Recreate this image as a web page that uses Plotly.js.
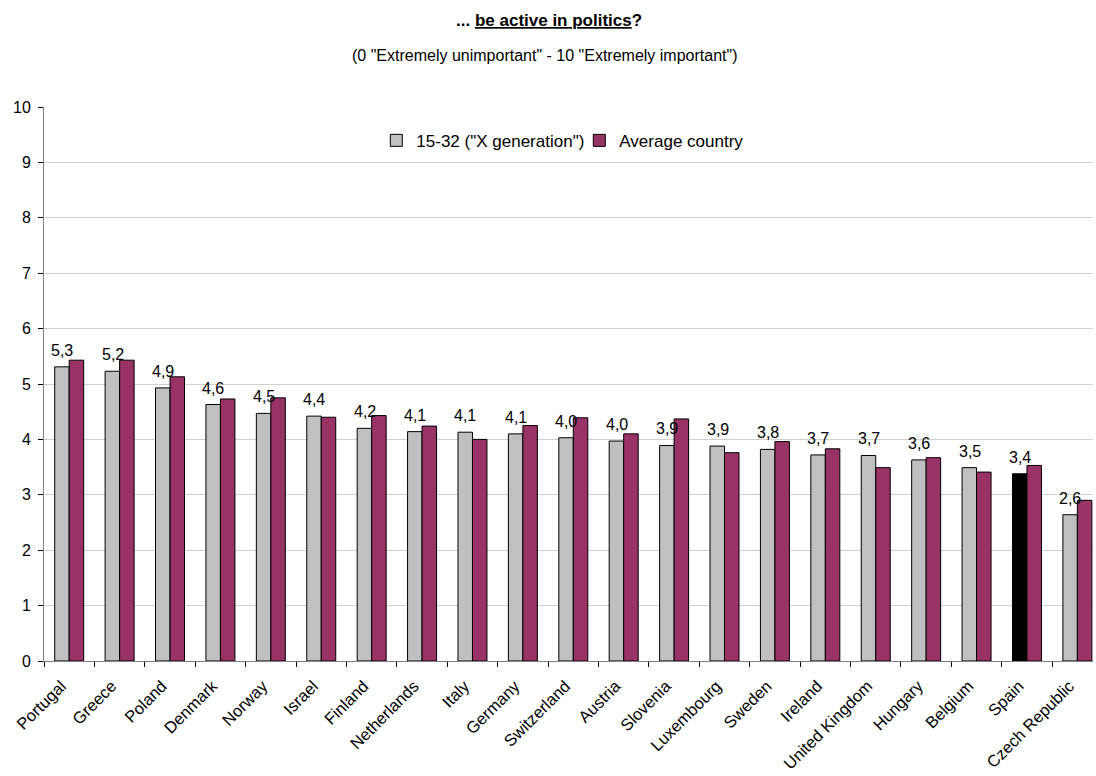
<!DOCTYPE html>
<html>
<head>
<meta charset="utf-8">
<script src="https://cdn.plot.ly/plotly-3.0.1.min.js"></script>
<style>html,body{margin:0;padding:0;background:#fff;}#chart{width:1096px;height:776px;}</style>
</head>
<body>
<div id="chart"></div>
<script>
var countries = ["Portugal","Greece","Poland","Denmark","Norway","Israel","Finland","Netherlands","Italy","Germany","Switzerland","Austria","Slovenia","Luxembourg","Sweden","Ireland","United Kingdom","Hungary","Belgium","Spain","Czech Republic"];
var genX = [5.31,5.23,4.93,4.63,4.47,4.42,4.20,4.14,4.13,4.10,4.03,3.97,3.89,3.88,3.82,3.72,3.71,3.63,3.49,3.38,2.64];
var avgCountry = [5.43,5.43,5.13,4.73,4.75,4.40,4.43,4.24,4.00,4.25,4.39,4.10,4.37,3.76,3.96,3.83,3.49,3.67,3.41,3.53,2.90];
var seriesNames = ['15-32 ("X generation")', 'Average country'];
var highlight = "Spain";

var grayColors = countries.map(function(c){ return c === highlight ? '#000000' : '#C0C0C0'; });
var labels = genX.map(function(v){ return v.toFixed(1).replace('.', ','); });

var font = 'Arial, "Liberation Sans", sans-serif';

var traces = [
  {type:'bar', name:seriesNames[0], x:countries, y:genX,
   marker:{color:grayColors, line:{color:'#000000', width:1}}, hoverinfo:'none'},
  {type:'bar', name:seriesNames[1], x:countries, y:avgCountry,
   marker:{color:'#993366', line:{color:'#000000', width:1}}, hoverinfo:'none'}
];

var annotations = countries.map(function(c, i){
  return {x:c, y:genX[i], xref:'x', yref:'y', text:labels[i], showarrow:false,
          yanchor:'bottom', xanchor:'center', xshift:-7, yshift:6,
          font:{family:font, size:16, color:'#000'}};
});
annotations.push({xref:'paper', yref:'paper', x:0.481, y:1, yshift:87, xanchor:'center', yanchor:'middle',
  text:'<b>... <u>be active in politics</u>?</b>', showarrow:false, font:{family:font, size:17, color:'#000'}});
annotations.push({xref:'paper', yref:'paper', x:0.478, y:1, yshift:52, xanchor:'center', yanchor:'middle',
  text:'(0 "Extremely unimportant" - 10 "Extremely important")', showarrow:false, font:{family:font, size:16, color:'#000'}});

var layout = {
  width:1096, height:776,
  margin:{l:44, r:3, t:107, b:115, pad:0},
  paper_bgcolor:'#fff', plot_bgcolor:'#fff',
  font:{family:font, size:16, color:'#000'},
  barmode:'group', bargap:0.425, bargroupgap:0,
  showlegend:true,
  legend:{orientation:'h', x:0.3168, y:0.939, xanchor:'left', yanchor:'middle', entrywidth:158, entrywidthmode:'pixels',
          font:{family:font, size:17, color:'#000'}, bgcolor:'rgba(0,0,0,0)', itemwidth:30, traceorder:'normal'},
  xaxis:{type:'category', range:[-0.5, 20.31], showgrid:false, showline:true, linecolor:'#808080', linewidth:1,
         ticks:'outside', tickson:'boundaries', ticklen:5, tickcolor:'#000', tickangle:-45,
         ticklabelstandoff:8, ticklabelshift:-8,
         tickfont:{family:font, size:16.5, color:'#000'}, fixedrange:true},
  yaxis:{range:[0,10], dtick:1, tick0:0, showgrid:true, gridcolor:'#D0D0D0', gridwidth:1, zeroline:false,
         showline:true, linecolor:'#808080', linewidth:1, ticks:'outside', ticklen:5, tickcolor:'#000',
         ticklabelstandoff:4,
         tickfont:{family:font, size:16, color:'#000'}, fixedrange:true},
  annotations:annotations
};

Plotly.newPlot('chart', traces, layout, {staticPlot:true, displayModeBar:false});
</script>
</body>
</html>
